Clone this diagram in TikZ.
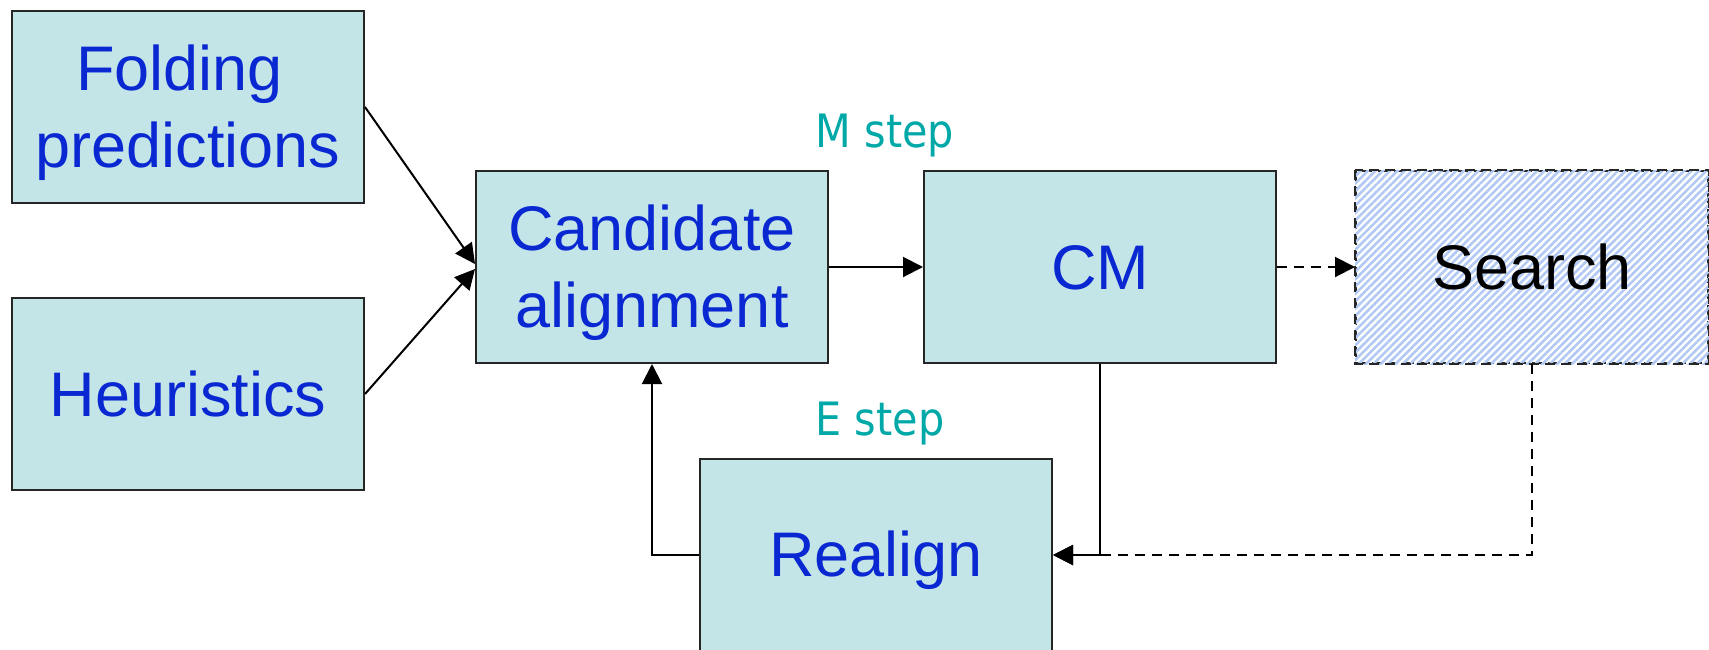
\documentclass[tikz,border=0pt]{standalone}
\usepackage{fontspec}
\setmainfont{Liberation Sans}
\newfontfamily\stepfont{DejaVu Sans Condensed}
\usetikzlibrary{arrows.meta,patterns.meta}
\definecolor{boxfill}{HTML}{C4E5E8}
\definecolor{boxtext}{HTML}{0A28D2}
\definecolor{steptext}{HTML}{00A8A8}
\definecolor{hatchblue}{HTML}{B2CAF3}
% uniform line height (57pt above, 13pt below the baseline) for every box
\newcommand\boxstrut{\rule[-13pt]{0pt}{70pt}}
\begin{document}
\begin{tikzpicture}[x=1pt,y=-1pt,
  block/.style={draw=black!85, line width=2pt, fill=boxfill,
    minimum width=352pt, minimum height=192pt, inner sep=0pt,
    text=boxtext, font=\fontsize{63}{77}\selectfont, align=center,
    anchor=north west},
  searchbox/.style={block, fill=white, text=black, dashed,
    dash pattern=on 10pt off 6pt},
  steplabel/.style={text=steptext, font=\stepfont\fontsize{46}{52}\selectfont,
    inner sep=0pt, anchor=base},
  arr/.style={line width=2pt, -{Triangle[length=20pt,width=20pt]}},
  dasharr/.style={arr, dash pattern=on 10pt off 7pt}]
\useasboundingbox (0,0) rectangle (1709,649);

% input boxes
\node[block] (fold) at (11,10) {\boxstrut Folding\hspace*{17pt}\\\boxstrut predictions};
\node[block] (heur) at (11,297) {\boxstrut Heuristics};

% EM loop
\node[block] (cand) at (475,170) {\boxstrut Candidate\\\boxstrut alignment};
\node[block] (cm) at (923,170) {\boxstrut CM};
\node[block] (realign) at (699,458) {\boxstrut Realign};

% optional search stage
\node[searchbox] (search) at (1355,170) {};
\pattern[pattern={Lines[angle=45,distance=5.2pt,line width=2.6pt]},
  pattern color=hatchblue]
  (search.north west) rectangle (search.south east);
\draw[line width=2pt, black!85, dash pattern=on 10pt off 6pt]
  (search.north west) rectangle (search.south east);
\node[text=black, font=\fontsize{63}{77}\selectfont, inner sep=0pt] (searchtext)
  at (search.center) {\boxstrut Search};

% step labels
\node[steplabel] (mstep) at (885,147) {M step};
\node[steplabel] (estep) at (880,435) {E step};

% connectors
\draw[arr] (fold.east) -- ([yshift=3pt]cand.west);
\draw[arr] (heur.east) -- ([yshift=-2pt]cand.west);
\draw[arr] (cand.east) -- (cm.west);
\draw[dasharr] (cm.east) -- (search.west);
\draw[dasharr] (search.south) |- (realign.east);
\draw[arr] (cm.south) |- (realign.east);
\draw[arr] (realign.west) -| (cand.south);
\end{tikzpicture}
\end{document}
